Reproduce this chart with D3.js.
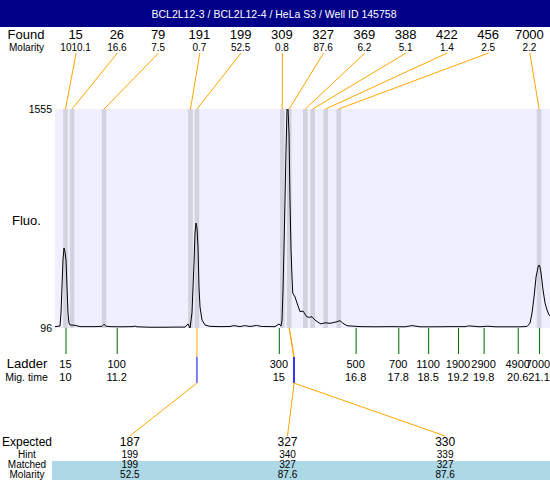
<!DOCTYPE html>
<html>
<head>
<meta charset="utf-8">
<script src="https://cdn.jsdelivr.net/npm/d3@7"></script>
<style>
body { margin: 0; background: #fff; }
text { font-family: "Liberation Sans", Arial, sans-serif; }
</style>
</head>
<body>
<div id="chart"></div>
<script>
//chart data
var title = "BCL2L12-3 / BCL2L12-4 / HeLa S3 / Well ID 145758";
var foundSizes = [15, 26, 79, 191, 199, 309, 327, 369, 388, 422, 456, 7000];
var foundMolarity = ["1010.1", "16.6", "7.5", "0.7", "52.5", "0.8", "87.6", "6.2", "5.1", "1.4", "2.5", "2.2"];
var ladderSizes = [15, 100, 300, 500, 700, 1100, 1900, 2900, 4900, 7000];
var ladderTimes = [10, 11.2, 15, 16.8, 17.8, 18.5, 19.2, 19.8, 20.6, 21.1];
var expectedSizes = [187, 327, 330];
var hintSizes = [199, 340, 339];
var matchedSizes = [199, 327, 327];
var matchedMolarity = ["52.5", "87.6", "87.6"];
var fluoTicks = [96, 1555];
var timeRange = [9.754, 21.356];

//electropherogram trace: [migration time, fluorescence]
var trace = [
  [9.754,105],[9.871,109],[9.895,196],[9.918,369],[9.941,549],[9.965,629],[9.988,602],
  [10.012,549],[10.035,369],[10.059,196],[10.082,129],[10.105,116],[10.223,114],[10.340,105],
  [10.692,105],[10.856,107],[10.902,121],[10.949,108],[11.043,105],[11.277,104],[11.582,105],
  [11.629,109],[11.676,104],[11.981,101],[12.332,101],[12.567,102],[12.801,102],[12.872,123],
  [12.918,96],[12.965,196],[13.012,529],[13.036,729],[13.059,795],[13.082,762],[13.106,636],
  [13.129,369],[13.153,236],[13.200,149],[13.270,116],[13.387,107],[13.622,105],[13.856,106],
  [13.950,112],[14.091,105],[14.200,112],[14.325,106],[14.480,113],[14.600,106],[14.911,105],
  [15.005,123],[15.052,109],[15.075,149],[15.098,349],[15.122,636],[15.145,949],[15.169,1282],
  [15.192,1555],[15.216,1555],[15.239,1395],[15.262,949],[15.286,616],[15.309,436],[15.326,329],
  [15.380,303],[15.426,263],[15.497,205],[15.567,209],[15.654,171],[15.715,167],[15.778,171],
  [15.848,149],[15.919,134],[15.989,123],[16.083,131],[16.200,127],[16.364,138],[16.434,145],
  [16.505,127],[16.599,111],[16.903,105],[17.255,104],[17.607,105],[17.958,104],[18.124,112],
  [18.310,104],[18.662,104],[19.013,105],[19.365,105],[19.450,110],[19.716,104],[19.900,108],
  [20.068,104],[20.420,104],[20.654,104],[20.818,106],[20.888,129],[20.935,196],[20.982,303],
  [21.029,436],[21.076,502],[21.099,516],[21.122,502],[21.146,462],[21.193,349],[21.239,263],
  [21.286,216],[21.333,183],[21.356,176]
];

var svgWidth = 550;
var svgHeight = 480;

//plot area
var plot = { left: 55, right: 550, top: 109, bottom: 328 };

var svg = d3.select("#chart")
    .append("svg")
    .attr("width", svgWidth)
    .attr("height", svgHeight);

//scales
var xScale = d3.scaleLinear().domain(timeRange).range([plot.left, plot.right]);
var yScale = d3.scaleLinear().domain([fluoTicks[0], fluoTicks[1]]).range([plot.bottom, plot.top]);
//size (bp) to migration time through the ladder
var sizeToTime = d3.scaleLinear().domain(ladderSizes).range(ladderTimes);
var foundScale = d3.scaleBand().domain(d3.range(foundSizes.length)).range([plot.left, plot.right]);
var expectedScale = d3.scaleBand().domain(d3.range(expectedSizes.length)).range([51, 524]);

//title bar
svg.append("rect")
    .attr("width", svgWidth)
    .attr("height", 27)
    .attr("fill", "#000088");
svg.append("text")
    .attr("x", 274)
    .attr("y", 18)
    .attr("text-anchor", "middle")
    .attr("font-size", "10.5px")
    .attr("fill", "white")
    .text(title);

//plot background
svg.append("rect")
    .attr("x", plot.left)
    .attr("y", plot.top)
    .attr("width", plot.right - plot.left)
    .attr("height", plot.bottom - plot.top)
    .attr("fill", "#efefff");

//peak bands
svg.selectAll(".band")
    .data(foundSizes)
    .enter()
    .append("rect")
    .attr("x", d => xScale(sizeToTime(d)) - 2.3)
    .attr("y", plot.top)
    .attr("width", 4.6)
    .attr("height", plot.bottom - plot.top)
    .attr("fill", "#d3d3df");

//trace
svg.append("clipPath")
    .attr("id", "clip")
    .append("rect")
    .attr("x", plot.left)
    .attr("y", plot.top)
    .attr("width", plot.right - plot.left)
    .attr("height", plot.bottom - plot.top);

var line = d3.line()
    .x(d => xScale(d[0]))
    .y(d => yScale(d[1]));

svg.append("path")
    .datum(trace)
    .attr("clip-path", "url(#clip)")
    .attr("d", line)
    .attr("fill", "none")
    .attr("stroke", "black")
    .attr("stroke-width", 1);

//y axis labels
var leftAxis = d3.axisLeft(yScale).tickValues(fluoTicks).tickSize(0).tickPadding(3).tickFormat(d3.format("d"));
var yAxis = svg.append("g")
    .attr("transform", `translate(${plot.left}, 0)`)
    .call(leftAxis);
yAxis.select(".domain").remove();
yAxis.selectAll("text")
    .attr("font-size", "10.5px")
    .attr("font-family", "Liberation Sans, Arial, sans-serif")
    .attr("fill", "black");

svg.append("text")
    .attr("x", 12)
    .attr("y", 225)
    .attr("font-size", "13px")
    .text("Fluo.");

//found row
svg.append("text")
    .attr("x", 26).attr("y", 39)
    .attr("text-anchor", "middle")
    .attr("font-size", "13px")
    .text("Found");
svg.append("text")
    .attr("x", 26.5).attr("y", 50.5)
    .attr("text-anchor", "middle")
    .attr("font-size", "10px")
    .text("Molarity");

svg.selectAll(".found")
    .data(foundSizes)
    .enter()
    .append("text")
    .attr("x", (d, i) => foundScale(i) + foundScale.bandwidth() / 2)
    .attr("y", 39)
    .attr("text-anchor", "middle")
    .attr("font-size", "13px")
    .text(d => d);

svg.selectAll(".foundMol")
    .data(foundMolarity)
    .enter()
    .append("text")
    .attr("x", (d, i) => foundScale(i) + foundScale.bandwidth() / 2)
    .attr("y", 50.5)
    .attr("text-anchor", "middle")
    .attr("font-size", "10px")
    .text(d => d);

//orange leader lines from found labels to peaks
svg.selectAll(".lead")
    .data(foundSizes)
    .enter()
    .append("line")
    .attr("x1", (d, i) => foundScale(i) + foundScale.bandwidth() / 2 + 0.5)
    .attr("y1", 53)
    .attr("x2", d => xScale(sizeToTime(d)))
    .attr("y2", plot.top)
    .attr("stroke", "orange")
    .attr("stroke-width", 1);

//ladder ticks
var ladderAxis = d3.axisBottom(xScale).tickValues(ladderTimes).tickSize(26).tickSizeOuter(0).tickFormat("");
var lAxis = svg.append("g")
    .attr("transform", `translate(0, ${plot.bottom})`)
    .call(ladderAxis);
lAxis.select(".domain").remove();
lAxis.selectAll("line").attr("stroke", "#006600");

svg.append("text")
    .attr("x", 27).attr("y", 368)
    .attr("text-anchor", "middle")
    .attr("font-size", "13px")
    .text("Ladder");
svg.append("text")
    .attr("x", 26.5).attr("y", 380.5)
    .attr("text-anchor", "middle")
    .attr("font-size", "10.5px")
    .text("Mig. time");

//last ladder label is pulled in so it stays inside the picture
svg.selectAll(".ladder")
    .data(ladderSizes)
    .enter()
    .append("text")
    .attr("x", (d, i) => Math.min(xScale(ladderTimes[i]), svgWidth - 12))
    .attr("y", 368)
    .attr("text-anchor", "middle")
    .attr("font-size", "11px")
    .text(d => d);

svg.selectAll(".migtime")
    .data(ladderTimes)
    .enter()
    .append("text")
    .attr("x", d => Math.min(xScale(d), svgWidth - 10))
    .attr("y", 381)
    .attr("text-anchor", "middle")
    .attr("font-size", "11px")
    .text(d => d);

//matched peaks: found peak -> hint position -> expected label
var matches = expectedSizes.map(function(e, i) {
    return { expected: e, hint: hintSizes[i], matched: matchedSizes[i], col: i };
});

svg.selectAll(".drop")
    .data(matches)
    .enter()
    .append("line")
    .attr("x1", d => xScale(sizeToTime(d.matched)))
    .attr("y1", plot.bottom)
    .attr("x2", d => xScale(sizeToTime(d.hint)))
    .attr("y2", 357)
    .attr("stroke", "orange");

svg.selectAll(".hint")
    .data(matches)
    .enter()
    .append("line")
    .attr("x1", d => xScale(sizeToTime(d.hint)))
    .attr("y1", 357)
    .attr("x2", d => xScale(sizeToTime(d.hint)))
    .attr("y2", 383)
    .attr("stroke", "blue");

svg.selectAll(".toExp")
    .data(matches)
    .enter()
    .append("line")
    .attr("x1", d => xScale(sizeToTime(d.hint)))
    .attr("y1", 383)
    .attr("x2", d => expectedScale(d.col) + expectedScale.bandwidth() / 2)
    .attr("y2", 436)
    .attr("stroke", "orange");

//bottom table
svg.append("rect")
    .attr("x", 52)
    .attr("y", 461)
    .attr("width", svgWidth - 52)
    .attr("height", 19)
    .attr("fill", "#add8e6");

var rows = [
    { label: "Expected", values: expectedSizes, y: 446, size: "12px" },
    { label: "Hint", values: hintSizes, y: 458, size: "10px" },
    { label: "Matched", values: matchedSizes, y: 468, size: "10px" },
    { label: "Molarity", values: matchedMolarity, y: 478, size: "10px" }
];

rows.forEach(function(r) {
    svg.append("text")
        .attr("x", 27).attr("y", r.y)
        .attr("text-anchor", "middle")
        .attr("font-size", r.size)
        .text(r.label);
    svg.selectAll(null)
        .data(r.values)
        .enter()
        .append("text")
        .attr("x", (d, i) => expectedScale(i) + expectedScale.bandwidth() / 2)
        .attr("y", r.y)
        .attr("text-anchor", "middle")
        .attr("font-size", r.size)
        .text(d => d);
});
</script>
</body>
</html>
